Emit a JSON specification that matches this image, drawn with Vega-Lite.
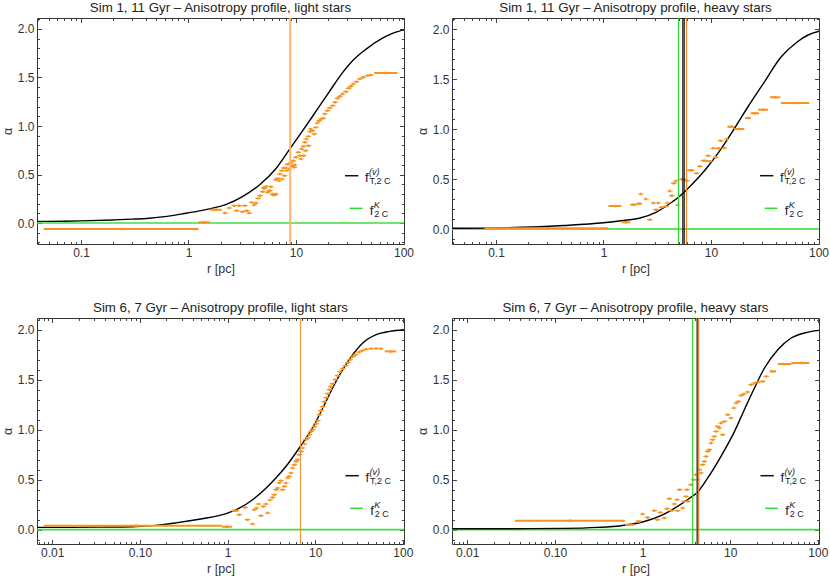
{
  "$schema": "https://vega.github.io/schema/vega-lite/v6.json",
  "padding": {"left": 0, "top": 0, "right": 0, "bottom": 0},
  "datasets": {
    "tl_curve": [
      {"r": 0.039, "a": 0.017}, {"r": 0.07, "a": 0.019}, {"r": 0.1, "a": 0.022}, {"r": 0.2, "a": 0.032},
      {"r": 0.3, "a": 0.04}, {"r": 0.431, "a": 0.05}, {"r": 0.6, "a": 0.066}, {"r": 0.88, "a": 0.095},
      {"r": 1.2, "a": 0.12}, {"r": 1.56, "a": 0.146}, {"r": 2.22, "a": 0.19}, {"r": 3.18, "a": 0.272},
      {"r": 4.54, "a": 0.39}, {"r": 6.49, "a": 0.56}, {"r": 8.83, "a": 0.77}, {"r": 11.5, "a": 0.95},
      {"r": 15.3, "a": 1.15}, {"r": 20.3, "a": 1.35}, {"r": 27.1, "a": 1.55}, {"r": 33.4, "a": 1.67},
      {"r": 44.6, "a": 1.79}, {"r": 63.7, "a": 1.905}, {"r": 80, "a": 1.957}, {"r": 101, "a": 1.99}
    ],
    "tl_pts": [
      {"r": 0.24, "a": -0.062, "lo": 0.045, "hi": 1.24}, {"r": 1.4, "a": 0.007, "lo": 1.24, "hi": 1.58},
      {"r": 1.8, "a": 0.137, "lo": 1.58, "hi": 2.04}, {"r": 68, "a": 1.546, "lo": 53.3, "hi": 87.9},
      {"r": 2.19, "a": 0.103}, {"r": 2.39, "a": 0.155}, {"r": 2.66, "a": 0.179}, {"r": 2.8, "a": 0.127},
      {"r": 2.96, "a": 0.179}, {"r": 3.18, "a": 0.117}, {"r": 3.34, "a": 0.179}, {"r": 3.49, "a": 0.127},
      {"r": 3.67, "a": 0.103}, {"r": 3.88, "a": 0.213}, {"r": 4.08, "a": 0.186}, {"r": 4.23, "a": 0.206},
      {"r": 4.45, "a": 0.254}, {"r": 4.64, "a": 0.282}, {"r": 4.88, "a": 0.323}, {"r": 5.06, "a": 0.357},
      {"r": 5.06, "a": 0.368}, {"r": 5.32, "a": 0.378}, {"r": 5.43, "a": 0.316}, {"r": 5.63, "a": 0.333},
      {"r": 5.71, "a": 0.333}, {"r": 5.84, "a": 0.375}, {"r": 6.04, "a": 0.299}, {"r": 6.13, "a": 0.289},
      {"r": 6.35, "a": 0.289}, {"r": 6.49, "a": 0.447}, {"r": 6.5, "a": 0.299}, {"r": 6.73, "a": 0.46},
      {"r": 6.97, "a": 0.436}, {"r": 7.07, "a": 0.505}, {"r": 7.38, "a": 0.54}, {"r": 7.4, "a": 0.454},
      {"r": 7.65, "a": 0.567}, {"r": 7.82, "a": 0.488}, {"r": 8.04, "a": 0.567}, {"r": 8.16, "a": 0.54},
      {"r": 8.34, "a": 0.605}, {"r": 8.64, "a": 0.557}, {"r": 8.95, "a": 0.619}, {"r": 9.15, "a": 0.591},
      {"r": 9.41, "a": 0.643}, {"r": 9.61, "a": 0.574}, {"r": 9.75, "a": 0.598}, {"r": 9.96, "a": 0.677},
      {"r": 10.5, "a": 0.729}, {"r": 10.9, "a": 0.694}, {"r": 11.1, "a": 0.66}, {"r": 11.3, "a": 0.763},
      {"r": 11.7, "a": 0.79}, {"r": 11.8, "a": 0.694}, {"r": 12.1, "a": 0.832}, {"r": 12.3, "a": 0.746},
      {"r": 12.5, "a": 0.866}, {"r": 13.0, "a": 0.893}, {"r": 13.1, "a": 0.797}, {"r": 13.5, "a": 0.942},
      {"r": 13.7, "a": 0.969}, {"r": 14.2, "a": 0.952}, {"r": 14.8, "a": 0.918}, {"r": 15.3, "a": 0.986},
      {"r": 15.8, "a": 1.031}, {"r": 16.4, "a": 1.055}, {"r": 17.0, "a": 1.072}, {"r": 17.9, "a": 1.079},
      {"r": 18.5, "a": 1.124}, {"r": 19.6, "a": 1.158}, {"r": 20.6, "a": 1.186}, {"r": 21.9, "a": 1.21},
      {"r": 23.1, "a": 1.244}, {"r": 24.3, "a": 1.285}, {"r": 25.6, "a": 1.306}, {"r": 27.1, "a": 1.33},
      {"r": 29.1, "a": 1.354}, {"r": 30.8, "a": 1.388}, {"r": 32.4, "a": 1.409}, {"r": 34.0, "a": 1.433},
      {"r": 36.5, "a": 1.457}, {"r": 39.2, "a": 1.485}, {"r": 42.2, "a": 1.502}, {"r": 46.3, "a": 1.519},
      {"r": 49.7, "a": 1.526}
    ],
    "tl_vlines": [{"r": 8.83, "k": "light"}],
    "tl_leg": [
      {"x1": 28.56, "x2": 37.98, "ly": 0.4876, "lx": 43.85, "ty": 0.4196, "k": "black", "sup": "(v)", "sub": "T,2 C"},
      {"x1": 31.59, "x2": 41.38, "ly": 0.1515, "lx": 48.49, "ty": 0.0825, "k": "green", "sup": "K", "sub": "2 C"}
    ],
    "tr_curve": [
      {"r": 0.039, "a": 0.007}, {"r": 0.148, "a": 0.015}, {"r": 0.43, "a": 0.035}, {"r": 1.0, "a": 0.062},
      {"r": 1.6, "a": 0.088}, {"r": 2.15, "a": 0.107}, {"r": 3.07, "a": 0.167}, {"r": 4.38, "a": 0.273},
      {"r": 4.98, "a": 0.317}, {"r": 6.71, "a": 0.45}, {"r": 8.97, "a": 0.6}, {"r": 11.9, "a": 0.773},
      {"r": 16.4, "a": 1.0}, {"r": 22, "a": 1.22}, {"r": 31.2, "a": 1.467}, {"r": 44.6, "a": 1.717},
      {"r": 63.7, "a": 1.873}, {"r": 80, "a": 1.94}, {"r": 101, "a": 1.977}
    ],
    "tr_pts": [
      {"r": 0.3, "a": 0.008, "lo": 0.078, "hi": 1.11}, {"r": 1.28, "a": 0.23, "lo": 1.11, "hi": 1.47},
      {"r": 1.61, "a": 0.067, "lo": 1.47, "hi": 1.77}, {"r": 1.9, "a": 0.243, "lo": 1.77, "hi": 2.04},
      {"r": 2.15, "a": 0.253, "lo": 2.04, "hi": 2.26}, {"r": 15.3, "a": 1.023, "lo": 14.2, "hi": 16.4},
      {"r": 18.3, "a": 1.0, "lo": 16.4, "hi": 20.4}, {"r": 22.2, "a": 1.11, "lo": 20.8, "hi": 23.4},
      {"r": 25.6, "a": 1.157, "lo": 23.4, "hi": 28.0}, {"r": 30.6, "a": 1.193, "lo": 27.5, "hi": 34.0},
      {"r": 39.5, "a": 1.317, "lo": 35.4, "hi": 44.1}, {"r": 60.2, "a": 1.26, "lo": 44.6, "hi": 81.8},
      {"r": 2.22, "a": 0.35}, {"r": 2.48, "a": 0.3}, {"r": 2.7, "a": 0.093}, {"r": 2.9, "a": 0.26},
      {"r": 3.07, "a": 0.193}, {"r": 3.22, "a": 0.26}, {"r": 3.46, "a": 0.217}, {"r": 3.8, "a": 0.227},
      {"r": 3.94, "a": 0.26}, {"r": 4.14, "a": 0.38}, {"r": 4.32, "a": 0.333}, {"r": 4.51, "a": 0.457},
      {"r": 4.71, "a": 0.48}, {"r": 4.91, "a": 0.24}, {"r": 5.32, "a": 0.497}, {"r": 5.71, "a": 0.49},
      {"r": 5.96, "a": 0.483}, {"r": 6.35, "a": 0.587}, {"r": 6.63, "a": 0.587}, {"r": 7.33, "a": 0.557},
      {"r": 7.87, "a": 0.627}, {"r": 8.51, "a": 0.683}, {"r": 8.89, "a": 0.683}, {"r": 9.41, "a": 0.733},
      {"r": 9.75, "a": 0.677}, {"r": 10.5, "a": 0.807}, {"r": 11.1, "a": 0.717}, {"r": 11.7, "a": 0.807},
      {"r": 12.3, "a": 0.883}, {"r": 13.3, "a": 0.81}, {"r": 14.0, "a": 0.9}
    ],
    "tr_vlines": [
      {"r": 4.98, "k": "green"}, {"r": 5.47, "k": "black"}, {"r": 5.63, "k": "black"}, {"r": 5.92, "k": "orange"}
    ],
    "tr_leg": [
      {"x1": 28.56, "x2": 37.98, "ly": 0.533, "lx": 43.85, "ty": 0.467, "k": "black", "sup": "(v)", "sub": "T,2 C"},
      {"x1": 31.59, "x2": 41.38, "ly": 0.207, "lx": 48.49, "ty": 0.14, "k": "green", "sup": "K", "sub": "2 C"}
    ],
    "bl_curve": [
      {"r": 0.00674, "a": 0.023}, {"r": 0.0142, "a": 0.023}, {"r": 0.034, "a": 0.026}, {"r": 0.082, "a": 0.03},
      {"r": 0.152, "a": 0.043}, {"r": 0.257, "a": 0.068}, {"r": 0.474, "a": 0.105}, {"r": 1.0, "a": 0.165},
      {"r": 1.36, "a": 0.215}, {"r": 1.93, "a": 0.3}, {"r": 2.74, "a": 0.415}, {"r": 3.41, "a": 0.5},
      {"r": 4.85, "a": 0.655}, {"r": 6.78, "a": 0.834}, {"r": 9.36, "a": 1.02}, {"r": 12.2, "a": 1.217},
      {"r": 15.8, "a": 1.417}, {"r": 20.6, "a": 1.6}, {"r": 26.8, "a": 1.75}, {"r": 34.9, "a": 1.867},
      {"r": 49.7, "a": 1.95}, {"r": 70.5, "a": 1.983}, {"r": 103, "a": 2.0}
    ],
    "bl_pts": [
      {"r": 0.09, "a": 0.04, "lo": 0.008, "hi": 0.86}, {"r": 0.98, "a": 0.03, "lo": 0.86, "hi": 1.12},
      {"r": 1.23, "a": 0.19, "lo": 1.12, "hi": 1.34}, {"r": 72, "a": 1.783, "lo": 62, "hi": 84},
      {"r": 1.36, "a": 0.15}, {"r": 1.58, "a": 0.223}, {"r": 1.69, "a": 0.1}, {"r": 1.93, "a": 0.057},
      {"r": 2.02, "a": 0.2}, {"r": 2.14, "a": 0.217}, {"r": 2.26, "a": 0.257}, {"r": 2.4, "a": 0.14},
      {"r": 2.56, "a": 0.233}, {"r": 2.74, "a": 0.257}, {"r": 2.87, "a": 0.167}, {"r": 3.05, "a": 0.297},
      {"r": 3.27, "a": 0.323}, {"r": 3.41, "a": 0.35}, {"r": 3.57, "a": 0.4}, {"r": 3.73, "a": 0.417},
      {"r": 3.89, "a": 0.467}, {"r": 4.07, "a": 0.49}, {"r": 4.25, "a": 0.4}, {"r": 4.44, "a": 0.433},
      {"r": 4.64, "a": 0.467}, {"r": 4.85, "a": 0.517}, {"r": 5.06, "a": 0.533}, {"r": 5.29, "a": 0.567},
      {"r": 5.52, "a": 0.617}, {"r": 5.77, "a": 0.65}, {"r": 6.03, "a": 0.683}, {"r": 6.3, "a": 0.7},
      {"r": 6.58, "a": 0.75}, {"r": 6.89, "a": 0.783}, {"r": 7.19, "a": 0.817}, {"r": 7.52, "a": 0.857},
      {"r": 7.85, "a": 0.9}, {"r": 8.21, "a": 0.92}, {"r": 8.58, "a": 0.95}, {"r": 8.96, "a": 0.98},
      {"r": 9.36, "a": 1.0}, {"r": 9.78, "a": 1.03}, {"r": 10.2, "a": 1.06}, {"r": 10.7, "a": 1.09},
      {"r": 11.2, "a": 1.15}, {"r": 11.6, "a": 1.19}, {"r": 12.2, "a": 1.23}, {"r": 12.7, "a": 1.28},
      {"r": 13.3, "a": 1.32}, {"r": 13.9, "a": 1.36}, {"r": 14.5, "a": 1.4}, {"r": 15.1, "a": 1.43},
      {"r": 15.8, "a": 1.46}, {"r": 16.9, "a": 1.5}, {"r": 18.0, "a": 1.54}, {"r": 19.2, "a": 1.58},
      {"r": 20.6, "a": 1.61}, {"r": 22.1, "a": 1.64}, {"r": 23.6, "a": 1.67}, {"r": 25.0, "a": 1.7},
      {"r": 26.8, "a": 1.73}, {"r": 28.8, "a": 1.75}, {"r": 31.5, "a": 1.775}, {"r": 34.3, "a": 1.79},
      {"r": 38.1, "a": 1.805}, {"r": 43.5, "a": 1.81}, {"r": 49.6, "a": 1.813}, {"r": 56, "a": 1.81}
    ],
    "bl_vlines": [{"r": 6.78, "k": "orange"}],
    "bot_leg": [
      {"x1": 22.13, "x2": 31.42, "ly": 0.54, "lx": 37.37, "ty": 0.474, "k": "black", "sup": "(v)", "sub": "T,2 C"},
      {"x1": 25.06, "x2": 34.91, "ly": 0.214, "lx": 42.41, "ty": 0.147, "k": "green", "sup": "K", "sub": "2 C"}
    ],
    "br_curve": [
      {"r": 0.00674, "a": 0.01}, {"r": 0.034, "a": 0.01}, {"r": 0.127, "a": 0.013}, {"r": 0.306, "a": 0.023},
      {"r": 0.565, "a": 0.04}, {"r": 1.0, "a": 0.077}, {"r": 1.62, "a": 0.14}, {"r": 2.51, "a": 0.233},
      {"r": 3.57, "a": 0.325}, {"r": 4.18, "a": 0.37}, {"r": 5.52, "a": 0.515}, {"r": 7.85, "a": 0.733},
      {"r": 11.2, "a": 0.983}, {"r": 14.5, "a": 1.2}, {"r": 18.9, "a": 1.417}, {"r": 24.6, "a": 1.617},
      {"r": 34.9, "a": 1.8}, {"r": 49.6, "a": 1.917}, {"r": 70.2, "a": 1.967}, {"r": 103, "a": 1.993}
    ],
    "br_pts": [
      {"r": 0.15, "a": 0.09, "lo": 0.035, "hi": 0.628}, {"r": 0.71, "a": 0.05, "lo": 0.63, "hi": 0.8},
      {"r": 0.9, "a": 0.083, "lo": 0.85, "hi": 0.96}, {"r": 30.6, "a": 1.583, "lo": 28.0, "hi": 33.3},
      {"r": 40.5, "a": 1.657, "lo": 34.9, "hi": 49.6}, {"r": 64, "a": 1.667, "lo": 49.6, "hi": 80},
      {"r": 1.0, "a": 0.157}, {"r": 1.14, "a": 0.123}, {"r": 1.36, "a": 0.19}, {"r": 1.48, "a": 0.1},
      {"r": 1.59, "a": 0.173}, {"r": 1.77, "a": 0.117}, {"r": 1.9, "a": 0.21}, {"r": 2.02, "a": 0.31},
      {"r": 2.14, "a": 0.19}, {"r": 2.3, "a": 0.257}, {"r": 2.47, "a": 0.3}, {"r": 2.51, "a": 0.19},
      {"r": 2.65, "a": 0.4}, {"r": 2.86, "a": 0.217}, {"r": 2.99, "a": 0.283}, {"r": 3.13, "a": 0.333},
      {"r": 3.21, "a": 0.4}, {"r": 3.32, "a": 0.283}, {"r": 3.57, "a": 0.45}, {"r": 3.83, "a": 0.5},
      {"r": 4.07, "a": 0.55}, {"r": 4.25, "a": 0.5}, {"r": 4.44, "a": 0.6}, {"r": 4.64, "a": 0.567},
      {"r": 4.85, "a": 0.65}, {"r": 5.07, "a": 0.683}, {"r": 5.29, "a": 0.733}, {"r": 5.53, "a": 0.783},
      {"r": 5.78, "a": 0.8}, {"r": 6.04, "a": 0.867}, {"r": 6.31, "a": 0.9}, {"r": 6.59, "a": 0.933},
      {"r": 6.89, "a": 0.983}, {"r": 7.2, "a": 1.033}, {"r": 7.52, "a": 1.017}, {"r": 7.86, "a": 1.067},
      {"r": 8.21, "a": 0.95}, {"r": 8.58, "a": 1.083}, {"r": 9.36, "a": 1.15}, {"r": 10.2, "a": 1.117},
      {"r": 11.0, "a": 1.217}, {"r": 11.7, "a": 1.267}, {"r": 12.4, "a": 1.283}, {"r": 13.3, "a": 1.343},
      {"r": 14.3, "a": 1.357}, {"r": 15.8, "a": 1.377}, {"r": 17.3, "a": 1.45}, {"r": 18.9, "a": 1.467},
      {"r": 21.0, "a": 1.477}, {"r": 23.5, "a": 1.483}, {"r": 25.7, "a": 1.533}
    ],
    "br_vlines": [
      {"r": 3.73, "k": "green"}, {"r": 4.14, "k": "gray"}, {"r": 4.28, "k": "black"}, {"r": 4.37, "k": "orange"}
    ]
  },
  "columns": 2,
  "spacing": {"row": 24, "column": 0},
  "concat": [
    {
      "width": 367, "height": 226,
      "title": "Sim 1, 11 Gyr – Anisotropy profile, light stars",
      "layer": [
        {
          "data": {"values": [{"a": 0}]},
          "mark": {"type": "rule", "color": "#3FE03F", "strokeWidth": 1.6},
          "encoding": {"y": {"field": "a", "type": "quantitative", "axis": null}}
        },
        {
          "data": {"name": "tl_curve"},
          "mark": {"type": "line", "color": "#000000", "strokeWidth": 1.4, "interpolate": "monotone"},
          "encoding": {
            "x": {"field": "r", "type": "quantitative", "scale": {"type": "log", "domain": [0.039, 101], "nice": false},
              "axis": {"orient": "bottom", "title": "r [pc]", "values": [0.1, 1, 10, 100], "labelExpr": "format(datum.value, '~g')", "tickSize": -4.5, "labelPadding": 8}},
            "y": {"field": "a", "type": "quantitative", "scale": {"domain": [-0.216, 2.113], "nice": false, "zero": false},
              "axis": {"orient": "left", "title": "α", "values": [0, 0.5, 1, 1.5, 2], "format": ".1f", "tickSize": -4.5, "labelPadding": 7.5, "titlePadding": 3}}
          }
        },
        {
          "data": {"name": "tl_pts"},
          "transform": [{"filter": "isValid(datum.lo)"}],
          "mark": {"type": "rule", "color": "#F7941E", "strokeWidth": 2},
          "encoding": {
            "x": {"field": "lo", "type": "quantitative", "scale": {"type": "log"},
              "axis": {"orient": "bottom", "title": null, "labels": false, "tickSize": -2.5, "values": [0.04,0.05,0.06,0.07,0.08,0.09,0.2,0.3,0.4,0.5,0.6,0.7,0.8,0.9,2,3,4,5,6,7,8,9,20,30,40,50,60,70,80,90]}},
            "x2": {"field": "hi"},
            "y": {"field": "a", "type": "quantitative",
              "axis": {"orient": "left", "title": null, "labels": false, "tickSize": -2.5, "values": [-0.2,-0.1,0.1,0.2,0.3,0.4,0.6,0.7,0.8,0.9,1.1,1.2,1.3,1.4,1.6,1.7,1.8,1.9,2.1]}}
          }
        },
        {
          "data": {"name": "tl_pts"},
          "mark": {"type": "point", "shape": "M-1,-0.22H1V0.22H-1Z M-0.4,-0.45H0.4V0.45H-0.4Z", "filled": true, "color": "#F7941E", "size": 30, "opacity": 1},
          "encoding": {
            "x": {"field": "r", "type": "quantitative", "scale": {"type": "log"},
              "axis": {"orient": "top", "title": null, "labels": false, "tickSize": -4.5, "values": [0.1, 1, 10, 100]}},
            "y": {"field": "a", "type": "quantitative",
              "axis": {"orient": "right", "title": null, "labels": false, "tickSize": -4.5, "values": [0, 0.5, 1, 1.5, 2]}}
          }
        },
        {
          "data": {"name": "tl_vlines"},
          "mark": {"type": "rule", "strokeWidth": 2},
          "encoding": {
            "x": {"field": "r", "type": "quantitative", "scale": {"type": "log"}, "axis": null},
            "color": {"field": "k", "type": "nominal", "legend": null,
              "scale": {"domain": ["light", "orange", "green", "black", "gray"], "range": ["#FFB46E", "#F08C2C", "#2FDB2F", "#111111", "#8A8A8A"]}}
          }
        },
        {
          "data": {"name": "tl_leg"},
          "mark": {"type": "rule", "strokeWidth": 1.5},
          "encoding": {
            "x": {"field": "x1", "type": "quantitative", "scale": {"type": "log"},
              "axis": {"orient": "top", "title": null, "labels": false, "tickSize": -2.5, "values": [0.04,0.05,0.06,0.07,0.08,0.09,0.2,0.3,0.4,0.5,0.6,0.7,0.8,0.9,2,3,4,5,6,7,8,9,20,30,40,50,60,70,80,90]}},
            "x2": {"field": "x2"},
            "y": {"field": "ly", "type": "quantitative",
              "axis": {"orient": "right", "title": null, "labels": false, "tickSize": -2.5, "values": [-0.2,-0.1,0.1,0.2,0.3,0.4,0.6,0.7,0.8,0.9,1.1,1.2,1.3,1.4,1.6,1.7,1.8,1.9,2.1]}},
            "color": {"field": "k", "type": "nominal", "legend": null,
              "scale": {"domain": ["light", "orange", "green", "black", "gray"], "range": ["#FFB46E", "#F08C2C", "#2FDB2F", "#111111", "#8A8A8A"]}}
          }
        },
        {
          "data": {"name": "tl_leg"},
          "mark": {"type": "text", "align": "left", "baseline": "alphabetic", "fontSize": 13, "color": "#222222", "font": "Liberation Sans"},
          "encoding": {
            "x": {"field": "lx", "type": "quantitative", "scale": {"type": "log"}, "axis": null},
            "y": {"field": "ty", "type": "quantitative", "axis": null},
            "text": {"value": "f"}
          }
        },
        {
          "data": {"name": "tl_leg"},
          "mark": {"type": "text", "align": "left", "baseline": "alphabetic", "fontSize": 9, "dx": 4, "dy": -7, "color": "#222222", "font": "Liberation Sans", "fontStyle": "italic"},
          "encoding": {
            "x": {"field": "lx", "type": "quantitative", "scale": {"type": "log"}, "axis": null},
            "y": {"field": "ty", "type": "quantitative", "axis": null},
            "text": {"field": "sup"}
          }
        },
        {
          "data": {"name": "tl_leg"},
          "mark": {"type": "text", "align": "left", "baseline": "alphabetic", "fontSize": 9, "dx": 4.5, "dy": 2, "color": "#222222", "font": "Liberation Sans"},
          "encoding": {
            "x": {"field": "lx", "type": "quantitative", "scale": {"type": "log"}, "axis": null},
            "y": {"field": "ty", "type": "quantitative", "axis": null},
            "text": {"field": "sub"}
          }
        }
      ],
      "resolve": {"axis": {"x": "independent", "y": "independent"}}
    },
    {
      "width": 367, "height": 226,
      "title": "Sim 1, 11 Gyr – Anisotropy profile, heavy stars",
      "layer": [
        {
          "data": {"values": [{"a": 0}]},
          "mark": {"type": "rule", "color": "#5EE65E", "strokeWidth": 2.2},
          "encoding": {"y": {"field": "a", "type": "quantitative", "axis": null}}
        },
        {
          "data": {"name": "tr_curve"},
          "mark": {"type": "line", "color": "#000000", "strokeWidth": 1.4, "interpolate": "monotone"},
          "encoding": {
            "x": {"field": "r", "type": "quantitative", "scale": {"type": "log", "domain": [0.039, 101], "nice": false},
              "axis": {"orient": "bottom", "title": "r [pc]", "values": [0.1, 1, 10, 100], "labelExpr": "format(datum.value, '~g')", "tickSize": -4.5, "labelPadding": 8}},
            "y": {"field": "a", "type": "quantitative", "scale": {"domain": [-0.15, 2.11], "nice": false, "zero": false},
              "axis": {"orient": "left", "title": "α", "values": [0, 0.5, 1, 1.5, 2], "format": ".1f", "tickSize": -4.5, "labelPadding": 7.5, "titlePadding": 3}}
          }
        },
        {
          "data": {"name": "tr_pts"},
          "transform": [{"filter": "isValid(datum.lo)"}],
          "mark": {"type": "rule", "color": "#F7941E", "strokeWidth": 2},
          "encoding": {
            "x": {"field": "lo", "type": "quantitative", "scale": {"type": "log"},
              "axis": {"orient": "bottom", "title": null, "labels": false, "tickSize": -2.5, "values": [0.04,0.05,0.06,0.07,0.08,0.09,0.2,0.3,0.4,0.5,0.6,0.7,0.8,0.9,2,3,4,5,6,7,8,9,20,30,40,50,60,70,80,90]}},
            "x2": {"field": "hi"},
            "y": {"field": "a", "type": "quantitative",
              "axis": {"orient": "left", "title": null, "labels": false, "tickSize": -2.5, "values": [-0.1,0.1,0.2,0.3,0.4,0.6,0.7,0.8,0.9,1.1,1.2,1.3,1.4,1.6,1.7,1.8,1.9,2.1]}}
          }
        },
        {
          "data": {"name": "tr_pts"},
          "mark": {"type": "point", "shape": "M-1,-0.22H1V0.22H-1Z M-0.4,-0.45H0.4V0.45H-0.4Z", "filled": true, "color": "#F7941E", "size": 30, "opacity": 1},
          "encoding": {
            "x": {"field": "r", "type": "quantitative", "scale": {"type": "log"},
              "axis": {"orient": "top", "title": null, "labels": false, "tickSize": -4.5, "values": [0.1, 1, 10, 100]}},
            "y": {"field": "a", "type": "quantitative",
              "axis": {"orient": "right", "title": null, "labels": false, "tickSize": -4.5, "values": [0, 0.5, 1, 1.5, 2]}}
          }
        },
        {
          "data": {"name": "tr_vlines"},
          "mark": {"type": "rule", "strokeWidth": 1.2},
          "encoding": {
            "x": {"field": "r", "type": "quantitative", "scale": {"type": "log"}, "axis": null},
            "color": {"field": "k", "type": "nominal", "legend": null,
              "scale": {"domain": ["light", "orange", "green", "black", "gray"], "range": ["#FFB46E", "#F08C2C", "#2FDB2F", "#111111", "#8A8A8A"]}}
          }
        },
        {
          "data": {"name": "tr_leg"},
          "mark": {"type": "rule", "strokeWidth": 1.5},
          "encoding": {
            "x": {"field": "x1", "type": "quantitative", "scale": {"type": "log"},
              "axis": {"orient": "top", "title": null, "labels": false, "tickSize": -2.5, "values": [0.04,0.05,0.06,0.07,0.08,0.09,0.2,0.3,0.4,0.5,0.6,0.7,0.8,0.9,2,3,4,5,6,7,8,9,20,30,40,50,60,70,80,90]}},
            "x2": {"field": "x2"},
            "y": {"field": "ly", "type": "quantitative",
              "axis": {"orient": "right", "title": null, "labels": false, "tickSize": -2.5, "values": [-0.1,0.1,0.2,0.3,0.4,0.6,0.7,0.8,0.9,1.1,1.2,1.3,1.4,1.6,1.7,1.8,1.9,2.1]}},
            "color": {"field": "k", "type": "nominal", "legend": null,
              "scale": {"domain": ["light", "orange", "green", "black", "gray"], "range": ["#FFB46E", "#F08C2C", "#2FDB2F", "#111111", "#8A8A8A"]}}
          }
        },
        {
          "data": {"name": "tr_leg"},
          "mark": {"type": "text", "align": "left", "baseline": "alphabetic", "fontSize": 13, "color": "#222222", "font": "Liberation Sans"},
          "encoding": {
            "x": {"field": "lx", "type": "quantitative", "scale": {"type": "log"}, "axis": null},
            "y": {"field": "ty", "type": "quantitative", "axis": null},
            "text": {"value": "f"}
          }
        },
        {
          "data": {"name": "tr_leg"},
          "mark": {"type": "text", "align": "left", "baseline": "alphabetic", "fontSize": 9, "dx": 4, "dy": -7, "color": "#222222", "font": "Liberation Sans", "fontStyle": "italic"},
          "encoding": {
            "x": {"field": "lx", "type": "quantitative", "scale": {"type": "log"}, "axis": null},
            "y": {"field": "ty", "type": "quantitative", "axis": null},
            "text": {"field": "sup"}
          }
        },
        {
          "data": {"name": "tr_leg"},
          "mark": {"type": "text", "align": "left", "baseline": "alphabetic", "fontSize": 9, "dx": 4.5, "dy": 2, "color": "#222222", "font": "Liberation Sans"},
          "encoding": {
            "x": {"field": "lx", "type": "quantitative", "scale": {"type": "log"}, "axis": null},
            "y": {"field": "ty", "type": "quantitative", "axis": null},
            "text": {"field": "sub"}
          }
        }
      ],
      "resolve": {"axis": {"x": "independent", "y": "independent"}}
    },
    {
      "width": 367, "height": 226,
      "title": "Sim 6, 7 Gyr – Anisotropy profile, light stars",
      "layer": [
        {
          "data": {"values": [{"a": 0}]},
          "mark": {"type": "rule", "color": "#3FE03F", "strokeWidth": 1.8},
          "encoding": {"y": {"field": "a", "type": "quantitative", "axis": null}}
        },
        {
          "data": {"name": "bl_curve"},
          "mark": {"type": "line", "color": "#000000", "strokeWidth": 1.4, "interpolate": "monotone"},
          "encoding": {
            "x": {"field": "r", "type": "quantitative", "scale": {"type": "log", "domain": [0.0067, 103], "nice": false},
              "axis": {"orient": "bottom", "title": "r [pc]", "values": [0.01, 0.1, 1, 10, 100], "labelExpr": "datum.value == 0.01 ? '0.01' : datum.value == 0.1 ? '0.10' : format(datum.value, 'd')", "tickSize": -4.5, "labelPadding": 8}},
            "y": {"field": "a", "type": "quantitative", "scale": {"domain": [-0.143, 2.117], "nice": false, "zero": false},
              "axis": {"orient": "left", "title": "α", "values": [0, 0.5, 1, 1.5, 2], "format": ".1f", "tickSize": -4.5, "labelPadding": 7.5, "titlePadding": 3}}
          }
        },
        {
          "data": {"name": "bl_pts"},
          "transform": [{"filter": "isValid(datum.lo)"}],
          "mark": {"type": "rule", "color": "#F7941E", "strokeWidth": 2},
          "encoding": {
            "x": {"field": "lo", "type": "quantitative", "scale": {"type": "log"},
              "axis": {"orient": "bottom", "title": null, "labels": false, "tickSize": -2.5, "values": [0.007,0.008,0.009,0.02,0.03,0.04,0.05,0.06,0.07,0.08,0.09,0.2,0.3,0.4,0.5,0.6,0.7,0.8,0.9,2,3,4,5,6,7,8,9,20,30,40,50,60,70,80,90]}},
            "x2": {"field": "hi"},
            "y": {"field": "a", "type": "quantitative",
              "axis": {"orient": "left", "title": null, "labels": false, "tickSize": -2.5, "values": [-0.1,0.1,0.2,0.3,0.4,0.6,0.7,0.8,0.9,1.1,1.2,1.3,1.4,1.6,1.7,1.8,1.9,2.1]}}
          }
        },
        {
          "data": {"name": "bl_pts"},
          "mark": {"type": "point", "shape": "M-1,-0.22H1V0.22H-1Z M-0.4,-0.45H0.4V0.45H-0.4Z", "filled": true, "color": "#F7941E", "size": 30, "opacity": 1},
          "encoding": {
            "x": {"field": "r", "type": "quantitative", "scale": {"type": "log"},
              "axis": {"orient": "top", "title": null, "labels": false, "tickSize": -4.5, "values": [0.01, 0.1, 1, 10, 100]}},
            "y": {"field": "a", "type": "quantitative",
              "axis": {"orient": "right", "title": null, "labels": false, "tickSize": -4.5, "values": [0, 0.5, 1, 1.5, 2]}}
          }
        },
        {
          "data": {"name": "bl_vlines"},
          "mark": {"type": "rule", "strokeWidth": 1},
          "encoding": {
            "x": {"field": "r", "type": "quantitative", "scale": {"type": "log"}, "axis": null},
            "color": {"field": "k", "type": "nominal", "legend": null,
              "scale": {"domain": ["light", "orange", "green", "black", "gray"], "range": ["#FFB46E", "#F08C2C", "#2FDB2F", "#111111", "#8A8A8A"]}}
          }
        },
        {
          "data": {"name": "bot_leg"},
          "mark": {"type": "rule", "strokeWidth": 1.5},
          "encoding": {
            "x": {"field": "x1", "type": "quantitative", "scale": {"type": "log"},
              "axis": {"orient": "top", "title": null, "labels": false, "tickSize": -2.5, "values": [0.007,0.008,0.009,0.02,0.03,0.04,0.05,0.06,0.07,0.08,0.09,0.2,0.3,0.4,0.5,0.6,0.7,0.8,0.9,2,3,4,5,6,7,8,9,20,30,40,50,60,70,80,90]}},
            "x2": {"field": "x2"},
            "y": {"field": "ly", "type": "quantitative",
              "axis": {"orient": "right", "title": null, "labels": false, "tickSize": -2.5, "values": [-0.1,0.1,0.2,0.3,0.4,0.6,0.7,0.8,0.9,1.1,1.2,1.3,1.4,1.6,1.7,1.8,1.9,2.1]}},
            "color": {"field": "k", "type": "nominal", "legend": null,
              "scale": {"domain": ["light", "orange", "green", "black", "gray"], "range": ["#FFB46E", "#F08C2C", "#2FDB2F", "#111111", "#8A8A8A"]}}
          }
        },
        {
          "data": {"name": "bot_leg"},
          "mark": {"type": "text", "align": "left", "baseline": "alphabetic", "fontSize": 13, "color": "#222222", "font": "Liberation Sans"},
          "encoding": {
            "x": {"field": "lx", "type": "quantitative", "scale": {"type": "log"}, "axis": null},
            "y": {"field": "ty", "type": "quantitative", "axis": null},
            "text": {"value": "f"}
          }
        },
        {
          "data": {"name": "bot_leg"},
          "mark": {"type": "text", "align": "left", "baseline": "alphabetic", "fontSize": 9, "dx": 4, "dy": -7, "color": "#222222", "font": "Liberation Sans", "fontStyle": "italic"},
          "encoding": {
            "x": {"field": "lx", "type": "quantitative", "scale": {"type": "log"}, "axis": null},
            "y": {"field": "ty", "type": "quantitative", "axis": null},
            "text": {"field": "sup"}
          }
        },
        {
          "data": {"name": "bot_leg"},
          "mark": {"type": "text", "align": "left", "baseline": "alphabetic", "fontSize": 9, "dx": 4.5, "dy": 2, "color": "#222222", "font": "Liberation Sans"},
          "encoding": {
            "x": {"field": "lx", "type": "quantitative", "scale": {"type": "log"}, "axis": null},
            "y": {"field": "ty", "type": "quantitative", "axis": null},
            "text": {"field": "sub"}
          }
        }
      ],
      "resolve": {"axis": {"x": "independent", "y": "independent"}}
    },
    {
      "width": 367, "height": 226,
      "title": "Sim 6, 7 Gyr – Anisotropy profile, heavy stars",
      "layer": [
        {
          "data": {"values": [{"a": 0}]},
          "mark": {"type": "rule", "color": "#3FE03F", "strokeWidth": 1.8},
          "encoding": {"y": {"field": "a", "type": "quantitative", "axis": null}}
        },
        {
          "data": {"name": "br_curve"},
          "mark": {"type": "line", "color": "#000000", "strokeWidth": 1.4, "interpolate": "monotone"},
          "encoding": {
            "x": {"field": "r", "type": "quantitative", "scale": {"type": "log", "domain": [0.0067, 103], "nice": false},
              "axis": {"orient": "bottom", "title": "r [pc]", "values": [0.01, 0.1, 1, 10, 100], "labelExpr": "datum.value == 0.01 ? '0.01' : datum.value == 0.1 ? '0.10' : format(datum.value, 'd')", "tickSize": -4.5, "labelPadding": 8}},
            "y": {"field": "a", "type": "quantitative", "scale": {"domain": [-0.143, 2.117], "nice": false, "zero": false},
              "axis": {"orient": "left", "title": "α", "values": [0, 0.5, 1, 1.5, 2], "format": ".1f", "tickSize": -4.5, "labelPadding": 7.5, "titlePadding": 3}}
          }
        },
        {
          "data": {"name": "br_pts"},
          "transform": [{"filter": "isValid(datum.lo)"}],
          "mark": {"type": "rule", "color": "#F7941E", "strokeWidth": 2},
          "encoding": {
            "x": {"field": "lo", "type": "quantitative", "scale": {"type": "log"},
              "axis": {"orient": "bottom", "title": null, "labels": false, "tickSize": -2.5, "values": [0.007,0.008,0.009,0.02,0.03,0.04,0.05,0.06,0.07,0.08,0.09,0.2,0.3,0.4,0.5,0.6,0.7,0.8,0.9,2,3,4,5,6,7,8,9,20,30,40,50,60,70,80,90]}},
            "x2": {"field": "hi"},
            "y": {"field": "a", "type": "quantitative",
              "axis": {"orient": "left", "title": null, "labels": false, "tickSize": -2.5, "values": [-0.1,0.1,0.2,0.3,0.4,0.6,0.7,0.8,0.9,1.1,1.2,1.3,1.4,1.6,1.7,1.8,1.9,2.1]}}
          }
        },
        {
          "data": {"name": "br_pts"},
          "mark": {"type": "point", "shape": "M-1,-0.22H1V0.22H-1Z M-0.4,-0.45H0.4V0.45H-0.4Z", "filled": true, "color": "#F7941E", "size": 30, "opacity": 1},
          "encoding": {
            "x": {"field": "r", "type": "quantitative", "scale": {"type": "log"},
              "axis": {"orient": "top", "title": null, "labels": false, "tickSize": -4.5, "values": [0.01, 0.1, 1, 10, 100]}},
            "y": {"field": "a", "type": "quantitative",
              "axis": {"orient": "right", "title": null, "labels": false, "tickSize": -4.5, "values": [0, 0.5, 1, 1.5, 2]}}
          }
        },
        {
          "data": {"name": "br_vlines"},
          "mark": {"type": "rule", "strokeWidth": 1.2},
          "encoding": {
            "x": {"field": "r", "type": "quantitative", "scale": {"type": "log"}, "axis": null},
            "color": {"field": "k", "type": "nominal", "legend": null,
              "scale": {"domain": ["light", "orange", "green", "black", "gray"], "range": ["#FFB46E", "#F08C2C", "#2FDB2F", "#111111", "#8A8A8A"]}}
          }
        },
        {
          "data": {"name": "bot_leg"},
          "mark": {"type": "rule", "strokeWidth": 1.5},
          "encoding": {
            "x": {"field": "x1", "type": "quantitative", "scale": {"type": "log"},
              "axis": {"orient": "top", "title": null, "labels": false, "tickSize": -2.5, "values": [0.007,0.008,0.009,0.02,0.03,0.04,0.05,0.06,0.07,0.08,0.09,0.2,0.3,0.4,0.5,0.6,0.7,0.8,0.9,2,3,4,5,6,7,8,9,20,30,40,50,60,70,80,90]}},
            "x2": {"field": "x2"},
            "y": {"field": "ly", "type": "quantitative",
              "axis": {"orient": "right", "title": null, "labels": false, "tickSize": -2.5, "values": [-0.1,0.1,0.2,0.3,0.4,0.6,0.7,0.8,0.9,1.1,1.2,1.3,1.4,1.6,1.7,1.8,1.9,2.1]}},
            "color": {"field": "k", "type": "nominal", "legend": null,
              "scale": {"domain": ["light", "orange", "green", "black", "gray"], "range": ["#FFB46E", "#F08C2C", "#2FDB2F", "#111111", "#8A8A8A"]}}
          }
        },
        {
          "data": {"name": "bot_leg"},
          "mark": {"type": "text", "align": "left", "baseline": "alphabetic", "fontSize": 13, "color": "#222222", "font": "Liberation Sans"},
          "encoding": {
            "x": {"field": "lx", "type": "quantitative", "scale": {"type": "log"}, "axis": null},
            "y": {"field": "ty", "type": "quantitative", "axis": null},
            "text": {"value": "f"}
          }
        },
        {
          "data": {"name": "bot_leg"},
          "mark": {"type": "text", "align": "left", "baseline": "alphabetic", "fontSize": 9, "dx": 4, "dy": -7, "color": "#222222", "font": "Liberation Sans", "fontStyle": "italic"},
          "encoding": {
            "x": {"field": "lx", "type": "quantitative", "scale": {"type": "log"}, "axis": null},
            "y": {"field": "ty", "type": "quantitative", "axis": null},
            "text": {"field": "sup"}
          }
        },
        {
          "data": {"name": "bot_leg"},
          "mark": {"type": "text", "align": "left", "baseline": "alphabetic", "fontSize": 9, "dx": 4.5, "dy": 2, "color": "#222222", "font": "Liberation Sans"},
          "encoding": {
            "x": {"field": "lx", "type": "quantitative", "scale": {"type": "log"}, "axis": null},
            "y": {"field": "ty", "type": "quantitative", "axis": null},
            "text": {"field": "sub"}
          }
        }
      ],
      "resolve": {"axis": {"x": "independent", "y": "independent"}}
    }
  ],
  "config": {
    "view": {"stroke": "#333333", "strokeWidth": 1},
    "font": "Liberation Sans",
    "title": {"font": "Liberation Sans", "fontSize": 13.3, "fontWeight": "normal", "color": "#222222", "offset": 3},
    "axis": {
      "domain": false, "grid": false,
      "labelFont": "Liberation Sans", "labelFontSize": 12, "labelColor": "#333333",
      "labelOverlap": false, "labelFlush": false,
      "tickColor": "#444444", "tickWidth": 1,
      "titleFont": "Liberation Sans", "titleFontSize": 12.5, "titleFontWeight": "normal", "titleColor": "#333333", "titlePadding": 4
    }
  }
}
